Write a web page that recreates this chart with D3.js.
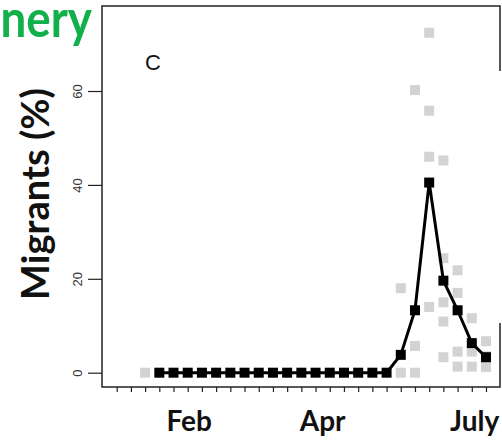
<!DOCTYPE html>
<html>
<head>
<meta charset="utf-8">
<script src="https://cdn.jsdelivr.net/npm/d3@7"></script>
<style>
  html, body { margin: 0; padding: 0; background: #fff; }
  svg { display: block; }
</style>
</head>
<body>
<div id="chart"></div>
<script>
// weekly mean migrant share (black line)
const weeks = [0, 1, 2, 3, 4, 5, 6, 7, 8, 9, 10, 11, 12, 13, 14, 15, 16, 17, 18, 19, 20, 21, 22, 23];
const meanValues = [0, 0, 0, 0, 0, 0, 0, 0, 0, 0, 0, 0, 0, 0, 0, 0, 0, 3.8, 13.3, 40.5, 19.6, 13.3, 6.3, 3.3];

// individual observations (grey squares)
const obsWeeks = [-1, 17, 17, 18, 18, 18, 19, 19, 19, 19, 20, 20, 20, 20, 20, 21, 21, 21, 21, 22, 22, 22, 23, 23, 23];
const obsValues = [0, 18.0, 0, 60.2, 5.7, 0, 72.4, 55.8, 46.0, 14.0, 45.2, 24.4, 15.0, 10.9, 3.3, 21.8, 17.0, 4.5, 1.3, 11.6, 4.5, 1.3, 6.7, 3.5, 1.2];

const xTicks = [-3, -2, -1, 0, 1, 2, 3, 4, 5, 6, 7, 8, 9, 10, 11, 12, 13, 14, 15, 16, 17, 18, 19, 20, 21, 22, 23];
const yTicks = [0, 20, 40, 60];
const monthLabels = ["Feb", "Apr", "July"];
const monthWeeks = [2.1, 11.5, 22.2];

const width = 502;
const height = 441;
const box = {left: 102, right: 500, top: 6, bottom: 387};

const svg = d3.select("#chart")
  .append("svg")
    .attr("width", width)
    .attr("height", height);

const xScale = d3.scaleLinear()
  .domain([-3, 23])
  .range([116.7, 486]);

const yScale = d3.scaleLinear()
  .domain([0, 60])
  .range([372.7, 91]);

// frame (right side has a gap in the source image)
const frame = svg.append("g")
  .attr("stroke", "#222")
  .attr("stroke-width", 1.5)
  .attr("fill", "none");
frame.append("path")
  .attr("d", `M${box.right},71 V${box.top} H${box.left} V${box.bottom} H${box.right} V323`);

// y axis
const yAxis = svg.append("g")
  .attr("transform", `translate(${box.left},0)`)
  .call(d3.axisLeft(yScale).tickValues(yTicks).tickSize(14).tickPadding(0));
yAxis.select(".domain").remove();
yAxis.selectAll(".tick line").attr("stroke", "#222").attr("stroke-width", 1.2);
yAxis.selectAll(".tick text")
  .attr("font-family", "'Liberation Sans', Arial, sans-serif")
  .attr("font-size", 13)
  .attr("fill", "#333")
  .attr("text-anchor", "middle")
  .attr("transform", "translate(-20,0) rotate(-90)")
  .attr("x", 0)
  .attr("y", 0)
  .attr("dy", "0");

// x axis (small ticks only)
const xAxis = svg.append("g")
  .attr("transform", `translate(0,${box.bottom})`)
  .call(d3.axisBottom(xScale).tickValues(xTicks).tickSize(5).tickFormat(""));
xAxis.select(".domain").remove();
xAxis.selectAll(".tick line").attr("stroke", "#222").attr("stroke-width", 1.2);

// month labels
svg.append("g")
  .selectAll("text")
  .data(monthLabels)
  .join("text")
    .attr("x", (d, i) => xScale(monthWeeks[i]))
    .attr("y", 431)
    .attr("text-anchor", "middle")
    .attr("font-family", "Lato, sans-serif")
    .attr("font-weight", 700)
    .attr("font-size", 28)
    .attr("fill", "#111")
    .text(d => d);

// grey observations
const sq = 10;
svg.append("g")
  .selectAll("rect")
  .data(obsValues)
  .join("rect")
    .attr("x", (d, i) => xScale(obsWeeks[i]) - sq / 2)
    .attr("y", d => yScale(d) - sq / 2)
    .attr("width", sq)
    .attr("height", sq)
    .attr("fill", "#d3d3d3");

// mean line
const line = d3.line()
  .x((d, i) => xScale(weeks[i]))
  .y(d => yScale(d));

svg.append("path")
  .datum(meanValues)
  .attr("d", line)
  .attr("fill", "none")
  .attr("stroke", "#000")
  .attr("stroke-width", 3);

svg.append("g")
  .selectAll("rect")
  .data(meanValues)
  .join("rect")
    .attr("x", (d, i) => xScale(weeks[i]) - sq / 2)
    .attr("y", d => yScale(d) - sq / 2)
    .attr("width", sq)
    .attr("height", sq)
    .attr("fill", "#000");

// panel letter
svg.append("text")
  .attr("x", 153)
  .attr("y", 69.5)
  .attr("text-anchor", "middle")
  .attr("font-family", "'Liberation Sans', Arial, sans-serif")
  .attr("font-size", 22)
  .attr("fill", "#111")
  .text("C");

// y title
svg.append("text")
  .attr("transform", "translate(49,194) rotate(-90)")
  .attr("text-anchor", "middle")
  .attr("font-family", "Lato, sans-serif")
  .attr("font-weight", 700)
  .attr("font-size", 38)
  .attr("fill", "#111")
  .text("Migrants (%)");

// cut-off green heading (word starts beyond the left edge)
svg.append("text")
  .attr("transform", "translate(92,37) scale(0.88,1)")
  .attr("text-anchor", "end")
  .attr("font-family", "Lato, sans-serif")
  .attr("font-weight", 700)
  .attr("font-size", 52)
  .attr("fill", "#11b04a")
  .text("nery");
</script>
</body>
</html>
